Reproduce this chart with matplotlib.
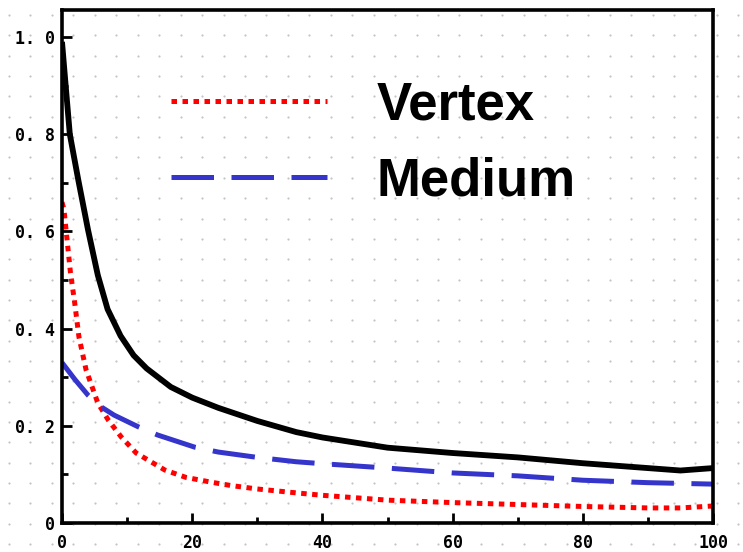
import matplotlib.pyplot as plt
import numpy as np
from matplotlib.ticker import MultipleLocator

# total curve (solid black, no legend entry)
total_x = [0, 0.5, 1.2, 2.5, 4, 5.5, 7, 9, 11, 13, 16.7, 20, 24, 30, 36, 40, 50, 60,
           70, 80, 90, 95, 100]
total_y = [0.99, 0.91, 0.80, 0.706, 0.603, 0.51, 0.44, 0.385, 0.345, 0.318, 0.28,
           0.258, 0.237, 0.21, 0.187, 0.176, 0.155, 0.144, 0.135, 0.123, 0.113, 0.108,
           0.113]

vertex_x = [0, 0.3, 1.3, 1.95, 2.6, 3.7, 5.5, 7.1, 9.1, 11.4, 15.8, 19, 22.9, 26, 30,
            36, 40, 50, 60, 70, 80, 90, 95, 100]
vertex_y = [0.66, 0.645, 0.515, 0.453, 0.383, 0.315, 0.247, 0.212, 0.177, 0.144,
            0.109, 0.094, 0.084, 0.077, 0.07, 0.062, 0.057, 0.047, 0.042, 0.038,
            0.034, 0.031, 0.031, 0.035]

medium_x = [0, 2, 4, 6, 8, 11.7, 14.7, 20.4, 24, 30, 36, 40, 50, 60, 70, 80, 90, 100]
medium_y = [0.33, 0.295, 0.263, 0.239, 0.222, 0.198, 0.181, 0.156, 0.146, 0.135,
            0.126, 0.122, 0.113, 0.103, 0.097, 0.088, 0.083, 0.08]

x_ticks = [0, 20, 40, 60, 80, 100]
x_labels = ["0", "20", "40", "60", "80", "100"]
y_ticks = [0, 0.2, 0.4, 0.6, 0.8, 1.0]
y_labels = ["0", "0. 2", "0. 4", "0. 6", "0. 8", "1. 0"]

W, H = 743, 552
fig = plt.figure(figsize=(W / 100, H / 100), dpi=100)

# dotted paper background over the whole figure
bg = fig.add_axes([0, 0, 1, 1], zorder=-1)
bg.set_xlim(0, W)
bg.set_ylim(H, 0)
bg.axis("off")
gx, gy = np.meshgrid(np.arange(9, W, 21.45), np.arange(15, H, 20.35))
bg.scatter(gx.ravel(), gy.ravel(), s=2.5, color="#c4c4c4", linewidths=0)

ax = fig.add_axes([62 / W, 1 - 523 / H, (713 - 62) / W, (523 - 10) / H])
ax.patch.set_alpha(0)

ax.plot(total_x, total_y, color="black", lw=4.2, solid_capstyle="butt",
        solid_joinstyle="round")
ax.plot(vertex_x, vertex_y, color="#ff0000", lw=3.6, linestyle=(0, (1.1, 1.1)),
        dash_capstyle="butt", label="Vertex")
ax.plot(medium_x, medium_y, color="#3535cc", lw=3.6, linestyle=(0, (8.5, 3.5)),
        dash_capstyle="butt", label="Medium")

ax.set_xlim(0, 100)
ax.set_ylim(0, (523 - 10) / 486)

for side in ["left", "right", "top", "bottom"]:
    ax.spines[side].set_linewidth(2.6)
    ax.spines[side].set_color("black")

ax.set_xticks(x_ticks)
ax.set_xticklabels(x_labels)
ax.set_yticks(y_ticks)
ax.set_yticklabels(y_labels)
ax.xaxis.set_minor_locator(MultipleLocator(10))
ax.yaxis.set_minor_locator(MultipleLocator(0.1))
ax.tick_params(which="both", direction="in", width=2, color="black")
ax.tick_params(which="major", length=7)
ax.tick_params(which="minor", length=4)
ax.tick_params(axis="x", pad=8)
ax.tick_params(axis="y", pad=5)
for lab in ax.get_xticklabels() + ax.get_yticklabels():
    lab.set_fontfamily("DejaVu Sans Mono")
    lab.set_fontweight("bold")
    lab.set_fontsize(12)

ax.legend(loc="upper left", bbox_to_anchor=(171 / W, 1 - 80 / H),
          bbox_transform=fig.transFigure, frameon=False,
          prop={"family": "Liberation Sans", "weight": "bold", "size": 38},
          handlelength=2.95, handletextpad=0.95, labelspacing=0.5,
          borderpad=0, borderaxespad=0)

fig.savefig("out.png", dpi=100)
